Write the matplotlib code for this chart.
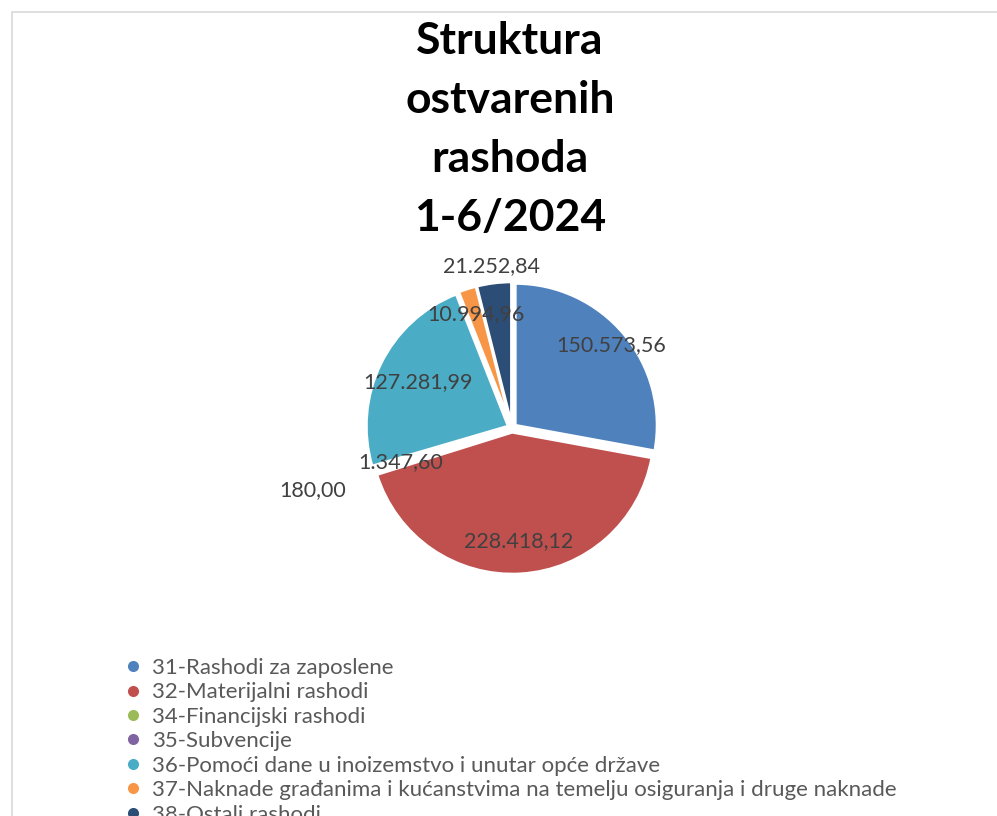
import numpy as np
import matplotlib.pyplot as plt
from matplotlib.patches import Rectangle
from matplotlib.lines import Line2D

plt.rcParams['font.family'] = ['Lato', 'DejaVu Sans']

categories = ["31-Rashodi za zaposlene",
              "32-Materijalni rashodi",
              "34-Financijski rashodi",
              "35-Subvencije",
              "36-Pomoći dane u inoizemstvo i unutar opće države",
              "37-Naknade građanima i kućanstvima na temelju osiguranja i druge naknade",
              "38-Ostali rashodi"]
values = [150573.56, 228418.12, 180.00, 1347.60, 127281.99, 10994.96, 21252.84]
value_labels = ["150.573,56", "228.418,12", "180,00", "1.347,60", "127.281,99", "10.994,96", "21.252,84"]
colors = ["#4F81BD", "#C0504D", "#9BBB59", "#8064A2", "#4BACC6", "#F79646", "#2C4D75"]
# radial position of each data label (fraction of radius)
label_r = [0.91, 0.80, 1.47, 0.82, 0.74, 0.84, 1.15]
title = "Struktura\nostvarenih\nrashoda\n1-6/2024"

W, H = 997, 816
fig = plt.figure(figsize=(W / 100, H / 100), dpi=100)

# chart area border (runs off the right and bottom)
fig.patches.append(Rectangle((12 / W, -0.1), 1.2, (H - 12) / H + 0.1, transform=fig.transFigure,
                             fill=False, edgecolor="#D9D9D9", linewidth=1.2))

cx, cy, half = 512, 428, 200
ax = fig.add_axes([(cx - half) / W, (H - cy - half) / H, 2 * half / W, 2 * half / H])
wedges, _ = ax.pie(values, colors=colors, startangle=90, counterclock=False,
                   explode=[0.03] * len(values),
                   wedgeprops=dict(edgecolor="white", linewidth=2))
ax.set_xlim(-1.41, 1.41)
ax.set_ylim(-1.41, 1.41)
ax.set_aspect("equal")
ax.axis("off")

for w, txt, r in zip(wedges, value_labels, label_r):
    mid = np.deg2rad((w.theta1 + w.theta2) / 2)
    ax.text(r * np.cos(mid), r * np.sin(mid), txt, ha="center", va="center",
            fontsize=15.5, color="#404040")

fig.text(510 / W, 1 - 21 / H, title, ha="center", va="top", fontsize=32,
         fontweight="bold", linespacing=1.58, color="black")

handles = [Line2D([], [], marker="o", linestyle="none", markersize=9,
                  markerfacecolor=c, markeredgecolor="white") for c in colors]
fig.legend(handles, categories, loc="upper left", bbox_to_anchor=(112 / W, 1 - 649 / H),
           frameon=False, fontsize=16, labelcolor="#595959", handletextpad=0.3,
           labelspacing=0.2, borderaxespad=0, handlelength=1.1)

fig.savefig("out.png", dpi=100)
